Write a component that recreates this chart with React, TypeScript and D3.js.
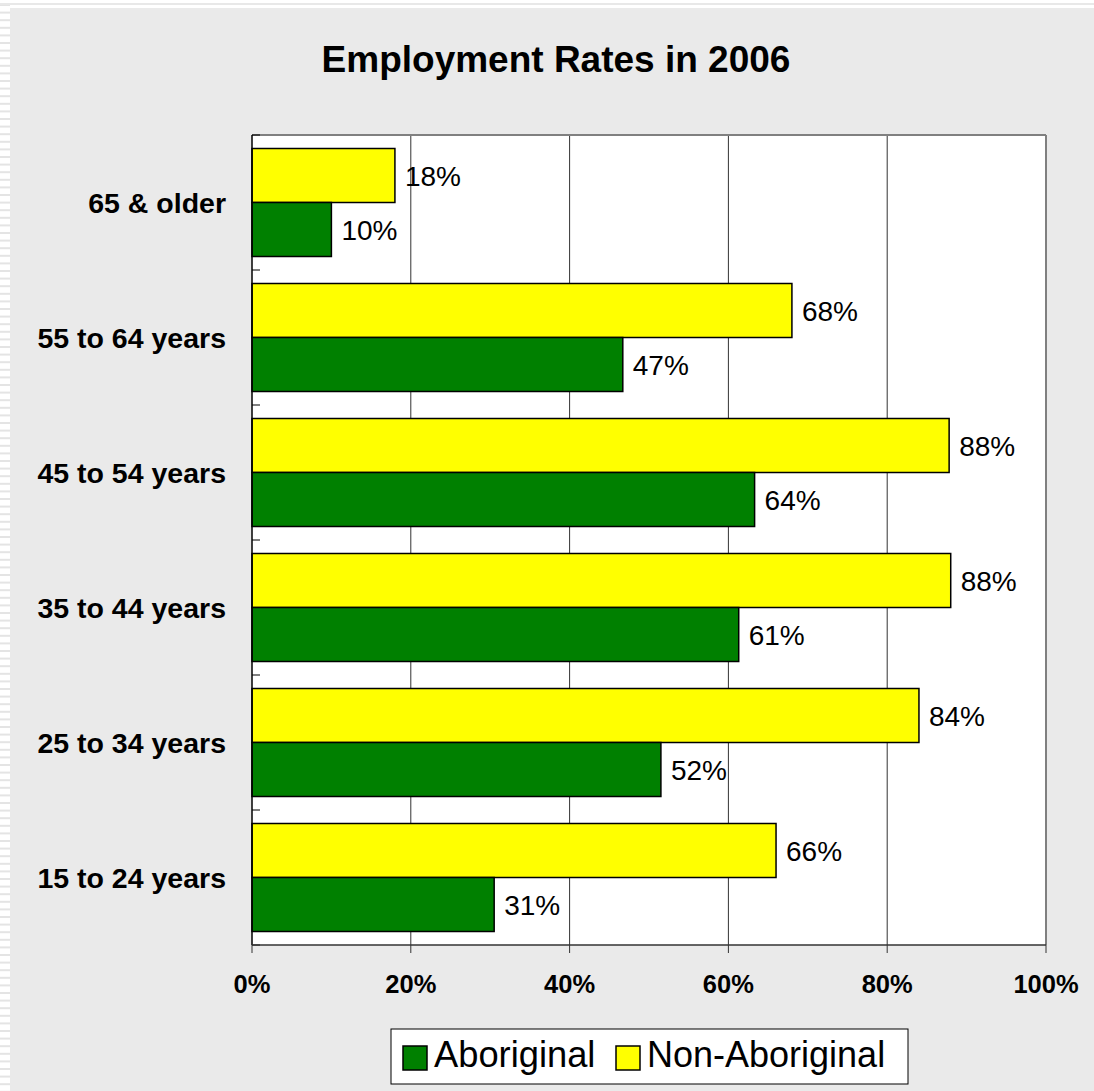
import React from "react";
import * as d3 from "d3";

const categories = ["65 & older", "55 to 64 years", "45 to 54 years", "35 to 44 years", "25 to 34 years", "15 to 24 years"];
const nonAboriginal = [18, 68, 87.8, 88, 84, 66];
const aboriginal = [10, 46.7, 63.3, 61.3, 51.5, 30.5];
const nonAboriginalLabels = ["18%", "68%", "88%", "88%", "84%", "66%"];
const aboriginalLabels = ["10%", "47%", "64%", "61%", "52%", "31%"];
const xTicks = [0, 20, 40, 60, 80, 100];
const seriesNames = ["Aboriginal", "Non-Aboriginal"];

const W = 1094, H = 1091;
const FONT = "'Liberation Sans', Arial, sans-serif";

export default function App() {
  const left = 252, right = 1046, top = 135, bottom = 945;
  const x = d3.scaleLinear().domain([0, 100]).range([left, right]);
  const band = (bottom - top) / categories.length;
  const bandStarts = categories.map((_, i) => top + i * band);
  const pad = band * 0.1;
  const barH = (band - 2 * pad) / 2;

  const stripes = d3.range(0, H, 7.6);

  return (
    <div style={{ position: "absolute", left: 0, top: 0 }}>
      <svg width={W} height={H} style={{ display: "block" }} fontFamily={FONT}>
        <rect x={0} y={0} width={W} height={H} fill="#ffffff" />
        {stripes.map((s, i) => (
          <rect key={i} x={0} y={s + 4} width={10} height={2} fill="#e4e4e4" />
        ))}
        <rect x={0} y={3} width={W} height={2} fill="#e8e8e8" />
        <rect x={10} y={8} width={W - 10} height={H - 8} fill="#eaeaea" />

        <text x={556} y={72} textAnchor="middle" fontSize={37} fontWeight="bold" fill="#000">
          Employment Rates in 2006
        </text>

        <rect x={left} y={top} width={right - left} height={bottom - top} fill="#ffffff" />
        {xTicks.slice(1, -1).map((t) => (
          <line key={t} x1={x(t)} x2={x(t)} y1={top} y2={bottom} stroke="#333" strokeWidth={1} />
        ))}
        <line x1={left} x2={right} y1={top} y2={top} stroke="#808080" strokeWidth={2} />
        <line x1={right} x2={right} y1={top} y2={bottom} stroke="#808080" strokeWidth={2} />

        {categories.map((c, i) => {
          const y0 = bandStarts[i] + pad;
          return (
            <g key={c}>
              <rect x={x(0)} y={y0} width={x(nonAboriginal[i]) - x(0)} height={barH} fill="#ffff00" stroke="#000" strokeWidth={1.5} />
              <rect x={x(0)} y={y0 + barH} width={x(aboriginal[i]) - x(0)} height={barH} fill="#008000" stroke="#000" strokeWidth={1.5} />
              <text x={x(nonAboriginal[i]) + 10} y={y0 + barH / 2} dy="0.36em" fontSize={28} fill="#000">
                {nonAboriginalLabels[i]}
              </text>
              <text x={x(aboriginal[i]) + 10} y={y0 + barH * 1.5} dy="0.36em" fontSize={28} fill="#000">
                {aboriginalLabels[i]}
              </text>
              <text x={226} y={bandStarts[i] + band / 2} dy="0.36em" textAnchor="end" fontSize={28.5} fontWeight="bold" fill="#000">
                {c}
              </text>
            </g>
          );
        })}

        {/* left axis */}
        <line x1={left} x2={left} y1={top} y2={bottom} stroke="#000" strokeWidth={1.5} />
        {d3.range(categories.length + 1).map((i) => (
          <line key={i} x1={left} x2={left + 8} y1={top + i * band} y2={top + i * band} stroke="#000" strokeWidth={1} />
        ))}
        {/* bottom axis */}
        <line x1={left} x2={right} y1={bottom} y2={bottom} stroke="#333" strokeWidth={1.5} />
        {xTicks.map((t) => (
          <g key={t}>
            <line x1={x(t)} x2={x(t)} y1={bottom} y2={bottom + 8} stroke="#333" strokeWidth={1} />
            <text x={x(t)} y={993} textAnchor="middle" fontSize={25.5} fontWeight="bold" fill="#000">
              {t}%
            </text>
          </g>
        ))}

        {/* legend */}
        <rect x={391} y={1029} width={517} height={55} fill="#fff" stroke="#000" strokeWidth={1} />
        <rect x={403} y={1046} width={24} height={24} fill="#008000" stroke="#000" strokeWidth={1.5} />
        <text x={434} y={1067} fontSize={36.3} fill="#000">{seriesNames[0]}</text>
        <rect x={616} y={1046} width={24} height={24} fill="#ffff00" stroke="#000" strokeWidth={1.5} />
        <text x={647} y={1067} fontSize={36} fill="#000">{seriesNames[1]}</text>
      </svg>
    </div>
  );
}
